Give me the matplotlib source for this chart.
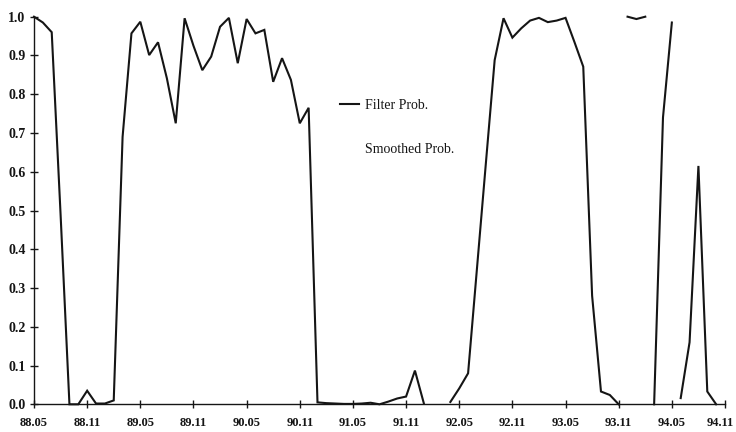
import numpy as np
import matplotlib
matplotlib.use("Agg")
import matplotlib.pyplot as plt
import matplotlib.transforms as mtransforms
from matplotlib.lines import Line2D

# ---- data: monthly filter probability, 88.05 .. 94.11 ----
tick_labels = ["88.05", "88.11", "89.05", "89.11", "90.05", "90.11", "91.05",
               "91.11", "92.05", "92.11", "93.05", "93.11", "94.05", "94.11"]
filter_prob = [
    1.000, 0.985, 0.960, 0.490, 0.000, 0.000, 0.035, 0.002, 0.002, 0.010,   # 88.05-89.02
    0.690, 0.957, 0.987, 0.901, 0.934, 0.841, 0.725, 0.996, 0.925, 0.862,   # 89.03-89.12
    0.897, 0.974, 0.997, 0.880, 0.994, 0.957, 0.966, 0.832, 0.893, 0.837,   # 90.01-90.10
    0.725, 0.765, 0.005, 0.003, 0.002, 0.001, 0.001, 0.002, 0.004, 0.000,   # 90.11-91.08
    0.007, 0.015, 0.020, 0.087, 0.003, np.nan, np.nan, 0.006, 0.041, 0.080, # 91.09-92.06
    0.350, 0.620, 0.888, 0.996, 0.946, 0.970, 0.990, 0.997, 0.986, 0.990,   # 92.07-93.04
    0.997, 0.935, 0.871, 0.280, 0.033, 0.024, 0.000, 1.000, 0.994, 1.000,   # 93.05-94.02
    0.000, 0.740, 0.985, 0.016, 0.160, 0.615, 0.033, 0.000,                 # 94.03-94.10
]
legend_labels = ["Filter Prob.", "Smoothed Prob."]

# index ranges of the curve that are legible in the printed original
visible_runs = [(0, 66), (67, 69), (70, 72), (73, 77)]

months = np.arange(len(filter_prob))
values = np.array(filter_prob, dtype=float)

plt.rcParams["font.family"] = ["Liberation Serif", "DejaVu Serif"]
ink = "#151515"

fig = plt.figure(figsize=(7.36, 4.32), dpi=100)
ax = fig.add_axes([34 / 736, 1 - 404.3 / 432, (725 - 34) / 736, (404.3 - 16.7) / 432])

for a, b in visible_runs:
    ax.plot(months[a:b + 1], values[a:b + 1], color=ink, lw=1.5,
            solid_joinstyle="miter", clip_on=False, zorder=3)

ax.set_xlim(0, 78)
ax.set_ylim(0, 1.0)
ax.set_xticks(np.arange(0, 79, 6))
ax.set_xticklabels(tick_labels)
ax.set_yticks(np.round(np.arange(0, 1.01, 0.1), 1))
ax.set_yticklabels([f"{v:.1f}" for v in np.arange(0, 1.01, 0.1)])

for s in ("top", "right"):
    ax.spines[s].set_visible(False)
for s in ("left", "bottom"):
    ax.spines[s].set_color(ink)
    ax.spines[s].set_linewidth(1.0)

ax.tick_params(axis="both", direction="inout", length=6, width=1.0, color=ink,
               labelcolor=ink)
ax.tick_params(axis="x", pad=6, labelsize=9)
ax.tick_params(axis="y", pad=3, labelsize=10)
for lab in ax.get_xticklabels() + ax.get_yticklabels():
    lab.set_fontweight("bold")

# keep the last date label inside the canvas
last = ax.get_xticklabels()[-1]
last.set_transform(last.get_transform() +
                   mtransforms.ScaledTranslation(-5 / 100, 0, fig.dpi_scale_trans))

handles = [Line2D([], [], color=ink, lw=1.5),
           Line2D([], [], color="none", lw=1.5)]
ax.legend(handles, legend_labels, loc="upper left",
          bbox_to_anchor=(340 / 736, 1 - 99 / 432), bbox_transform=fig.transFigure,
          frameon=False, fontsize=10, handlelength=1.4, handletextpad=0.4,
          labelspacing=2.2, borderpad=0, borderaxespad=0, labelcolor=ink)

fig.savefig("out.png", dpi=100)
